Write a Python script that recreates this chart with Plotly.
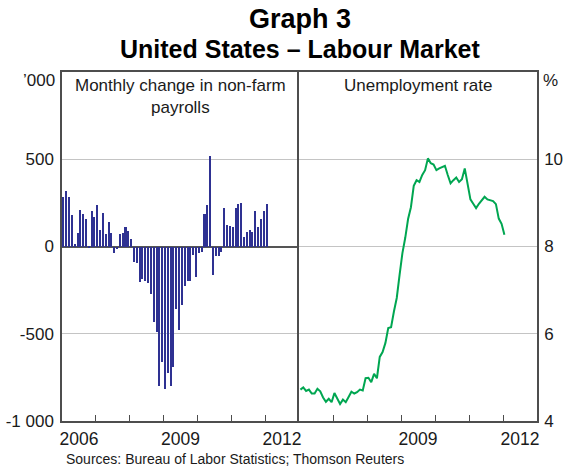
import plotly.graph_objects as go

# ---- data (Jan 2006 - Jan 2012, monthly) ----
payrolls = [284, 319, 284, 181, 15, 78, 210, 187, 158, -11, 204, 170,
            238, 95, 193, 73, 141, 78, -40, -17, 73, 78, 113, 90,
            44, -86, -97, -206, -189, -198, -212, -275, -435, -492, -801, -664,
            -818, -727, -801, -693, -361, -481, -338, -229, -200, -200, -46, -172,
            -40, -34, 187, 238, 519, -166, -57, -52, -29, 221, 124, 118,
            113, 221, 244, 250, 55, 84, 95, 84, 204, 113, 158, 204,
            244]
unemployment = [4.72, 4.77, 4.69, 4.72, 4.63, 4.63, 4.74, 4.68, 4.54, 4.44, 4.51, 4.43,
                4.64, 4.53, 4.39, 4.49, 4.43, 4.55, 4.67, 4.63, 4.66, 4.72, 4.70, 4.98,
                4.99, 4.89, 5.08, 4.98, 5.47, 5.58, 5.79, 6.13, 6.15, 6.51, 6.82, 7.35,
                7.85, 8.20, 8.63, 8.90, 9.39, 9.52, 9.48, 9.64, 9.75, 10.02, 9.91, 9.88,
                9.75, 9.79, 9.83, 9.85, 9.64, 9.45, 9.52, 9.58, 9.48, 9.54, 9.79, 9.42,
                9.08, 8.98, 8.88, 8.98, 9.05, 9.14, 9.08, 9.06, 9.04, 8.97, 8.64, 8.52,
                8.27]
start_year = 2006
dates = [start_year + (i + 0.5) / 12 for i in range(len(payrolls))]

left_ticks = [-1000, -500, 0, 500]
left_ticktext = ["-1 000", "-500", "0", "500"]
right_ticks = [4, 6, 8, 10]
right_ticktext = ["4", "6", "8", "10"]
year_bounds = [2007, 2008, 2009, 2010, 2011, 2012]
left_year_labels = ["2006", "2009", "2012"]
right_year_labels = ["2009", "2012"]

FONT = "Arial, 'Liberation Sans', sans-serif"
BAR_COLOR = "#2e3192"
LINE_COLOR = "#00a651"
GRID = "#c4c4c4"
AXIS = "#4d4d4d"
TXT = "#1a1a1a"

fig = go.Figure()
fig.add_trace(go.Bar(x=dates, y=payrolls, width=0.72 / 12, marker_color=BAR_COLOR,
                     marker_line_width=0, xaxis="x", yaxis="y"))
fig.add_trace(go.Scatter(x=dates, y=unemployment, mode="lines",
                         line=dict(color=LINE_COLOR, width=2), xaxis="x2", yaxis="y2"))

split = 237 / 475

def xaxis_cfg(domain, labels, anchor):
    return dict(domain=domain, range=[2006, 2013], anchor=anchor, automargin=False,
                tickvals=[int(l) + 0.5 for l in labels], ticktext=labels,
                ticks="outside", ticklen=1, tickcolor="rgba(0,0,0,0)",
                showgrid=False, zeroline=False,
                showline=True, linecolor=AXIS, linewidth=1.5, mirror=True,
                tickfont=dict(family=FONT, size=17.5, color=TXT),
                minor=dict(tickvals=year_bounds, ticks="inside", ticklen=6,
                           tickcolor=AXIS, tickwidth=1, showgrid=False),
                fixedrange=True)

fig.update_layout(
    width=563, height=468,
    margin=dict(l=62, r=26, t=72, b=47),
    paper_bgcolor="white", plot_bgcolor="white",
    showlegend=False, bargap=0,
    xaxis=xaxis_cfg([0, split], left_year_labels, "y"),
    xaxis2=xaxis_cfg([split, 1], right_year_labels, "y2"),
    yaxis=dict(range=[-1000, 1000], tickvals=left_ticks, ticktext=left_ticktext,
               anchor="x", automargin=False, showgrid=True, gridcolor=GRID, gridwidth=1.2,
               zeroline=True, zerolinecolor="#555555", zerolinewidth=1.5,
               showline=True, linecolor=AXIS, linewidth=1.5, mirror=False,
               ticks="outside", ticklen=3, tickcolor="rgba(0,0,0,0)",
               tickfont=dict(family=FONT, size=17, color=TXT)),
    yaxis2=dict(range=[4, 12], tickvals=right_ticks, ticktext=right_ticktext,
                anchor="x2", side="right", automargin=False,
                showgrid=True, gridcolor=GRID, gridwidth=1.2,
                zeroline=False,
                showline=True, linecolor=AXIS, linewidth=1.5, mirror=True,
                ticks="outside", ticklen=2, tickcolor="rgba(0,0,0,0)",
                tickfont=dict(family=FONT, size=17, color=TXT)),
)

annos = [
    dict(text="<b>Graph 3</b>", y=19, font_size=27),
    dict(text="<b>United States – Labour Market</b>", y=49, font_size=25),
]
for a in annos:
    fig.add_annotation(text=a["text"], xref="paper", x=(300 - 62) / 475, xanchor="center",
                       yref="paper", y=1 + (72 - a["y"]) / 349, yanchor="middle",
                       showarrow=False, font=dict(family=FONT, size=a["font_size"], color="#000"))

fig.add_annotation(text="Monthly change in non-farm<br>payrolls", xref="x domain", x=0.5,
                   yref="paper", y=1, yanchor="top", yshift=-2, showarrow=False,
                   font=dict(family=FONT, size=17, color=TXT))
fig.add_annotation(text="Unemployment rate", xref="x2 domain", x=0.5,
                   yref="paper", y=1, yanchor="top", yshift=-2, showarrow=False,
                   font=dict(family=FONT, size=17, color=TXT))
fig.add_annotation(text="’000", xref="paper", x=0, xanchor="right", xshift=-5,
                   yref="paper", y=1, yanchor="middle", yshift=-8, showarrow=False,
                   font=dict(family=FONT, size=17, color=TXT))
fig.add_annotation(text="%", xref="paper", x=1, xanchor="left", xshift=4,
                   yref="paper", y=1, yanchor="middle", yshift=-8, showarrow=False,
                   font=dict(family=FONT, size=17, color=TXT))
fig.add_annotation(text="Sources: Bureau of Labor Statistics; Thomson Reuters",
                   xref="paper", x=0, xanchor="left", xshift=2,
                   yref="paper", y=-(459 - 421) / 349, yanchor="middle", showarrow=False,
                   font=dict(family=FONT, size=14, color=TXT))

fig.write_html("out.html", config={"displayModeBar": False},
               post_script="document.body.style.margin='0';")
